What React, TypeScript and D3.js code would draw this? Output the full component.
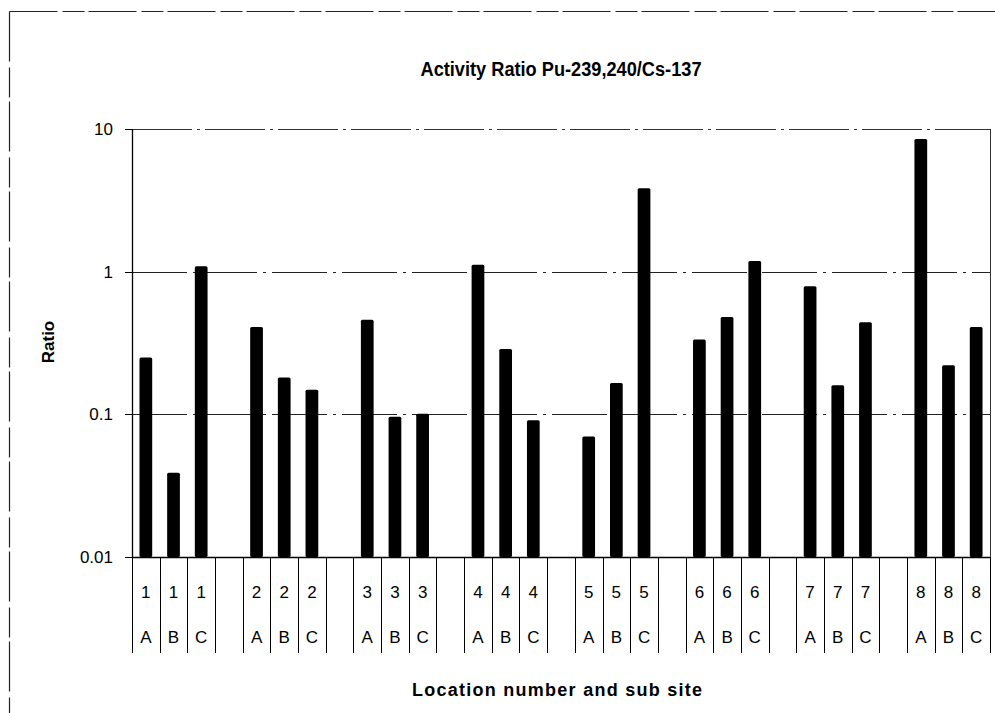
import React from "react";
import * as d3 from "d3";

const locations = ["1", "2", "3", "4", "5", "6", "7", "8"];
const subSites = ["A", "B", "C"];
const ratioA = [0.25, 0.41, 0.46, 1.12, 0.07, 0.335, 0.79, 8.5];
const ratioB = [0.039, 0.181, 0.096, 0.287, 0.166, 0.482, 0.16, 0.221];
const ratioC = [1.09, 0.149, 0.101, 0.091, 3.84, 1.19, 0.442, 0.41];
const yTicks = [0.01, 0.1, 1, 10];
const yTickLabels = ["0.01", "0.1", "1", "10"];
const gridValues = [0.1, 1];

type Slot = { key: string; loc: string; sub: string; value: number | null };

const seriesBySub = [ratioA, ratioB, ratioC];
const slots: Slot[] = [];
locations.forEach((loc, li) => {
  subSites.forEach((sub, si) => {
    slots.push({ key: `${loc}${sub}`, loc, sub, value: seriesBySub[si][li] });
  });
  if (li < locations.length - 1) slots.push({ key: `gap${li}`, loc: "", sub: "", value: null });
});

const W = 995;
const H = 713;
const left = 132;
const right = 990;
const top = 129;
const bottom = 557;

const FONT = "'Liberation Sans', Arial, sans-serif";

export default function App() {
  const x = d3.scaleBand<string>().domain(slots.map((s) => s.key)).range([left, right]).paddingInner(0.54).paddingOuter(0.27);
  const band = d3.scaleBand<string>().domain(slots.map((s) => s.key)).range([left, right]);
  const y = d3.scaleLog().domain([0.01, 10]).range([bottom, top]);
  const step = band.step();
  const boundaries = d3.range(slots.length + 1).map((i) => left + i * step);

  return (
    <svg width={W} height={H} style={{ position: "absolute", left: 0, top: 0, background: "#fff" }} fontFamily={FONT}>
      <rect x={0} y={0} width={W} height={H} fill="#fff" />
      {/* outer frame */}
      <line x1={9.5} y1={11.5} x2={W} y2={11.5} stroke="#222" strokeWidth={1.2} strokeDasharray="48,5,22,4" />
      <line x1={9.5} y1={11.5} x2={9.5} y2={H} stroke="#222" strokeWidth={1.2} strokeDasharray="50,6,30,4" />

      <text x={561} y={76} textAnchor="middle" fontSize={20} fontWeight="bold" fill="#000" textLength={281} lengthAdjust="spacingAndGlyphs">
        Activity Ratio Pu-239,240/Cs-137
      </text>

      {/* plot area frame top/right */}
      <line x1={left} y1={top + 0.5} x2={right} y2={top + 0.5} stroke="#333" strokeWidth={1} strokeDasharray="60,5,3,5" />
      <line x1={right + 0.5} y1={top} x2={right + 0.5} y2={bottom} stroke="#333" strokeWidth={1} />

      {/* gridlines */}
      {gridValues.map((v) => (
        <line key={v} x1={left} x2={right} y1={Math.round(y(v)) + 0.5} y2={Math.round(y(v)) + 0.5} stroke="#222" strokeWidth={1} strokeDasharray="55,6,3,6" />
      ))}

      {/* y ticks */}
      {yTicks.map((v, i) => (
        <g key={v}>
          <line x1={125} x2={left} y1={Math.round(y(v)) + 0.5} y2={Math.round(y(v)) + 0.5} stroke="#000" />
          <text x={113} y={y(v)} dy="0.36em" textAnchor="end" fontSize={17} fill="#000">
            {yTickLabels[i]}
          </text>
        </g>
      ))}

      {/* bars */}
      {slots
        .filter((s) => s.value !== null)
        .map((s) => (
          <rect
            key={s.key}
            x={x(s.key)}
            y={y(s.value as number)}
            width={x.bandwidth()}
            height={bottom - y(s.value as number)}
            rx={1.5}
            fill="#000"
          />
        ))}

      {/* axes */}
      <line x1={left + 0.5} x2={left + 0.5} y1={top} y2={bottom} stroke="#000" strokeWidth={1.3} />
      <line x1={left} x2={right} y1={bottom + 0.5} y2={bottom + 0.5} stroke="#000" strokeWidth={1.3} />

      {/* category boundary lines */}
      {boundaries.map((bx, i) => (
        <line key={i} x1={Math.round(bx) + 0.5} x2={Math.round(bx) + 0.5} y1={bottom} y2={653} stroke="#000" strokeWidth={1} />
      ))}

      {/* multi-level labels */}
      {slots.map((s) => (
        <g key={"l" + s.key}>
          <text x={(band(s.key) as number) + step / 2} y={592} dy="0.36em" textAnchor="middle" fontSize={17} fill="#000">
            {s.loc}
          </text>
          <text x={(band(s.key) as number) + step / 2} y={637} dy="0.36em" textAnchor="middle" fontSize={17} fill="#000">
            {s.sub}
          </text>
        </g>
      ))}

      <text x={557} y={696} textAnchor="middle" fontSize={18} fontWeight="bold" fill="#000" textLength={290} lengthAdjust="spacing">
        Location number and sub site
      </text>

      <text transform={`translate(54,342) rotate(-90)`} textAnchor="middle" fontSize={17} fontWeight="bold" fill="#000">
        Ratio
      </text>
    </svg>
  );
}
